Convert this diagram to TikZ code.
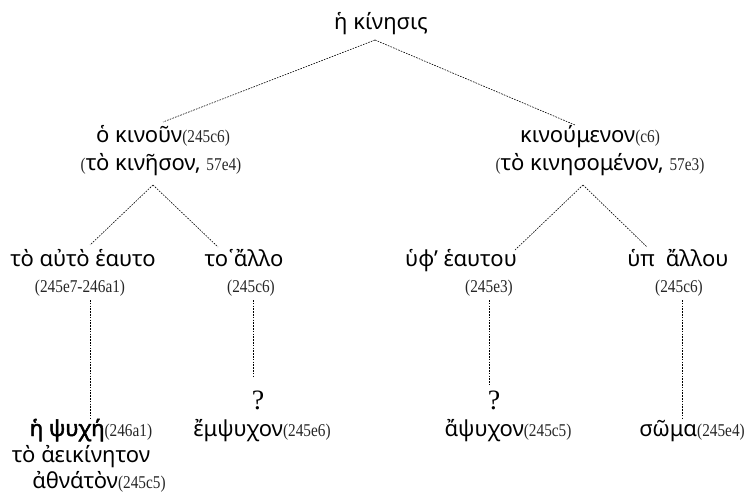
\documentclass[tikz,border=0pt]{standalone}
\usepackage{fontspec}
\setmainfont{Noto Sans}
\newfontfamily\numfont[FakeStretch=0.85]{Liberation Serif}
\newfontfamily\qfont{Liberation Serif}
\newfontfamily\strongfont[FakeBold=2.2]{Noto Sans}
\newcommand\loc[1]{{\numfont\fontsize{18}{18}\selectfont\color{black!85}#1}}
\newcommand\query{{\qfont\fontsize{28}{28}\selectfont ?}}
\begin{document}
\begin{tikzpicture}[x=1pt,y=-1pt,
  lbl/.style={anchor=base,inner sep=0pt,font=\fontsize{22}{26}\selectfont},
  sub/.style={anchor=base,inner sep=0pt},
  link/.style={line width=0.6pt,dash pattern=on 1.6pt off 1.2pt}]
\useasboundingbox (0,0) rectangle (748,500);

% root
\node[lbl] (root) at (381,30) {ἡ κίνησις};

% first level
\node[lbl] (mover) at (163,143) {ὁ κινοῦν\loc{(245c6)}};
\node[lbl] (moverB) at (161,171) {\loc{(}τὸ κινῆσον, \loc{57e4)}};
\node[lbl] (moved) at (590,143) {κινούμενον\loc{(c6)}};
\node[lbl] (movedB) at (600,171) {\loc{(}τὸ κινησομένον, \loc{57e3)}};

% second level
\node[lbl] (self) at (83,266) {τὸ αὐτὸ ἑαυτο};
\node[sub] (selfRef) at (80,292) {\loc{(245e7-246a1)}};
\node[lbl] (other) at (244,266) {το῾ἄλλο};
\node[sub] (otherRef) at (251,292) {\loc{(245c6)}};
\node[lbl] (byself) at (461,266) {ὑφ’ ἑαυτου};
\node[sub] (byselfRef) at (489,292) {\loc{(245e3)}};
\node[lbl] (byother) at (678,266) {ὑπ\hspace{0.5em}ἄλλου};
\node[sub] (byotherRef) at (679,292) {\loc{(245c6)}};

% leaves
\node[lbl] (soul) at (91,436) {{\strongfont ἡ ψυχή}\loc{(246a1)}};
\node[lbl] (soulB) at (81,462) {τὸ ἀεικίνητον};
\node[lbl] (soulC) at (99,488) {ἀθνάτὸν\loc{(245c5)}};
\node[sub] (qa) at (258,409) {\query};
\node[lbl] (ensouled) at (262,436) {ἔμψυχον\loc{(245e6)}};
\node[sub] (qb) at (494,409) {\query};
\node[lbl] (soulless) at (508,436) {ἄψυχον\loc{(245c5)}};
\node[lbl] (body) at (692,436) {σῶμα\loc{(245e4)}};

% connector end points
\coordinate (rootFoot) at (375,40);
\coordinate (moverTop) at (163,122);
\coordinate (movedTop) at (575,125);
\coordinate (moverFoot) at (153,185);
\coordinate (movedFoot) at (583,185);
\coordinate (selfTop) at (90,245);
\coordinate (otherTop) at (218,247);
\coordinate (byselfTop) at (515,250);
\coordinate (byotherTop) at (647,247);
\coordinate (selfFoot) at (90,300);
\coordinate (soulTop) at (90,420);
\coordinate (otherFoot) at (253,300);
\coordinate (qaTop) at (253,377);
\coordinate (byselfFoot) at (489,300);
\coordinate (qbTop) at (489,385);
\coordinate (byotherFoot) at (682,300);
\coordinate (bodyTop) at (682,418);

\draw[link] (rootFoot) -- (moverTop);
\draw[link] (rootFoot) -- (movedTop);
\draw[link] (moverFoot) -- (selfTop);
\draw[link] (moverFoot) -- (otherTop);
\draw[link] (movedFoot) -- (byselfTop);
\draw[link] (movedFoot) -- (byotherTop);
\draw[link] (selfFoot) -- (soulTop);
\draw[link] (otherFoot) -- (qaTop);
\draw[link] (byselfFoot) -- (qbTop);
\draw[link] (byotherFoot) -- (bodyTop);
\end{tikzpicture}
\end{document}
